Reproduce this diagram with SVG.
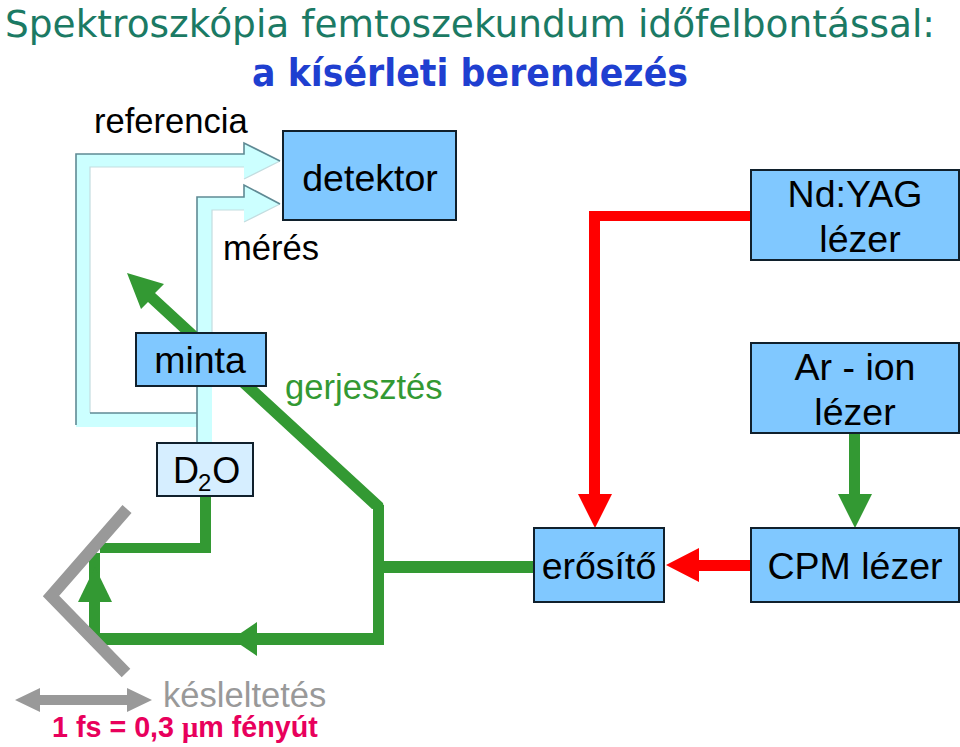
<svg xmlns="http://www.w3.org/2000/svg" width="960" height="747" viewBox="0 0 960 747">
<style>
text{font-family:"Liberation Sans",Arial,sans-serif;fill:#000}
.t{font-size:37.5px;text-anchor:middle}
.l{font-size:34.6px}
.box{fill:#80c8ff;stroke:#10202c;stroke-width:2}
.g{fill:#339933}
.r{fill:#ff0000}
.m{fill:#999}
.beam{fill:#ccffff}
.edge{stroke:#5f8a94;stroke-width:1.6;fill:none}
.soft{stroke:#c4dde0;stroke-width:1.2;fill:none}
.title{font-family:"DejaVu Sans",Verdana,sans-serif;font-size:37px;fill:#1b7a64}
.sub{font-family:"DejaVu Sans",Verdana,sans-serif;font-size:37px;font-weight:bold;fill:#1f3fd0}
</style>
<rect width="960" height="747" fill="#fff"/>
<text class="title" x="5" y="37" textLength="930" lengthAdjust="spacingAndGlyphs">Spektroszkópia femtoszekundum időfelbontással:</text>
<text class="sub" x="252" y="86" textLength="436" lengthAdjust="spacingAndGlyphs">a kísérleti berendezés</text>
<g id="connectors">
<g id="reference-beam">
<polygon class="beam" points="76,154 244,154 244,143 280,161 244,179 244,167 90,167 90,413 197,413 197,427 76,427"/>
<path class="soft" d="M90,413V167H244M244,179L280,161"/>
<path class="edge" d="M76,425V154H244V143L280,161"/>
<path class="edge" d="M90,413H197"/>
</g>
<g id="measure-beam">
<polygon class="beam" points="197,197 244,197 244,185 280,204 244,222 244,210 212,210 212,443 197,443"/>
<path class="soft" d="M212,340V210H244M244,222L280,204"/>
<path class="edge" d="M197,443V197H244V185L280,204"/>
</g>
<polygon class="g" points="127,273 164,284 155,293 383,503 384,508 372,509 148,302 141,309"/>
<rect class="g" x="373" y="505" width="11" height="140"/>
<rect class="g" x="384" y="561" width="150" height="12"/>
<rect class="g" x="90" y="633" width="283" height="12"/>
<polygon class="g" points="232,639 257,622 257,656"/>
<rect class="g" x="89" y="553" width="11" height="85"/>
<polygon class="g" points="95,567 112,602 78,602"/>
<rect class="g" x="100" y="543" width="111" height="10"/>
<rect class="g" x="200" y="496" width="11" height="57"/>
<polyline points="127,509 51,596 126,673" fill="none" stroke="#999" stroke-width="12"/>
<polygon class="m" points="15,700 40,688 40,695 127,695 127,688 152,700 127,712 127,705 40,705 40,712"/>
<polygon class="r" points="589,211 751,211 751,221 600,221 600,494 612,494 595,528 578,494 589,494"/>
<polygon class="r" points="751,560 699,560 699,548 666,565 699,582 699,571 751,571"/>
<polygon class="g" points="849,433 860,433 860,494 872,494 855,528 838,494 849,494"/>
</g>
<g id="detektor"><rect class="box" x="283" y="131" width="173" height="89"/><text class="t" x="370" y="191">detektor</text></g>
<g id="nd-yag"><rect class="box" x="751" y="170" width="208" height="90"/><text class="t" x="855" y="207">Nd:YAG</text><text class="t" x="860" y="252">lézer</text></g>
<g id="ar-ion"><rect class="box" x="751" y="343" width="208" height="90"/><text class="t" x="855" y="380">Ar - ion</text><text class="t" x="855" y="425">lézer</text></g>
<g id="minta"><rect class="box" x="136" y="333" width="130" height="53"/><text class="t" x="200" y="373">minta</text></g>
<g id="d2o"><rect x="157" y="443" width="96" height="53" fill="#d6eeff" stroke="#10202c" stroke-width="2"/><text x="173" y="483" font-size="36">D<tspan font-size="24" dy="8" dx="-1">2</tspan><tspan dy="-8" dx="1">O</tspan></text></g>
<g id="erosito"><rect class="box" x="534" y="528" width="130" height="74"/><text class="t" x="599" y="579">erősítő</text></g>
<g id="cpm"><rect class="box" x="751" y="528" width="208" height="74"/><text class="t" x="855" y="579">CPM lézer</text></g>
<text class="l" x="94" y="133">referencia</text>
<text class="l" x="223" y="260">mérés</text>
<text class="l" x="285" y="399" style="fill:#339933">gerjesztés</text>
<text class="l" x="163" y="707" style="fill:#999">késleltetés</text>
<text x="52" y="737" font-size="28.7" font-weight="bold" style="fill:#e8005c">1 fs = 0,3 <tspan style="font-family:'Liberation Serif',serif">μ</tspan>m fényút</text>
</svg>
